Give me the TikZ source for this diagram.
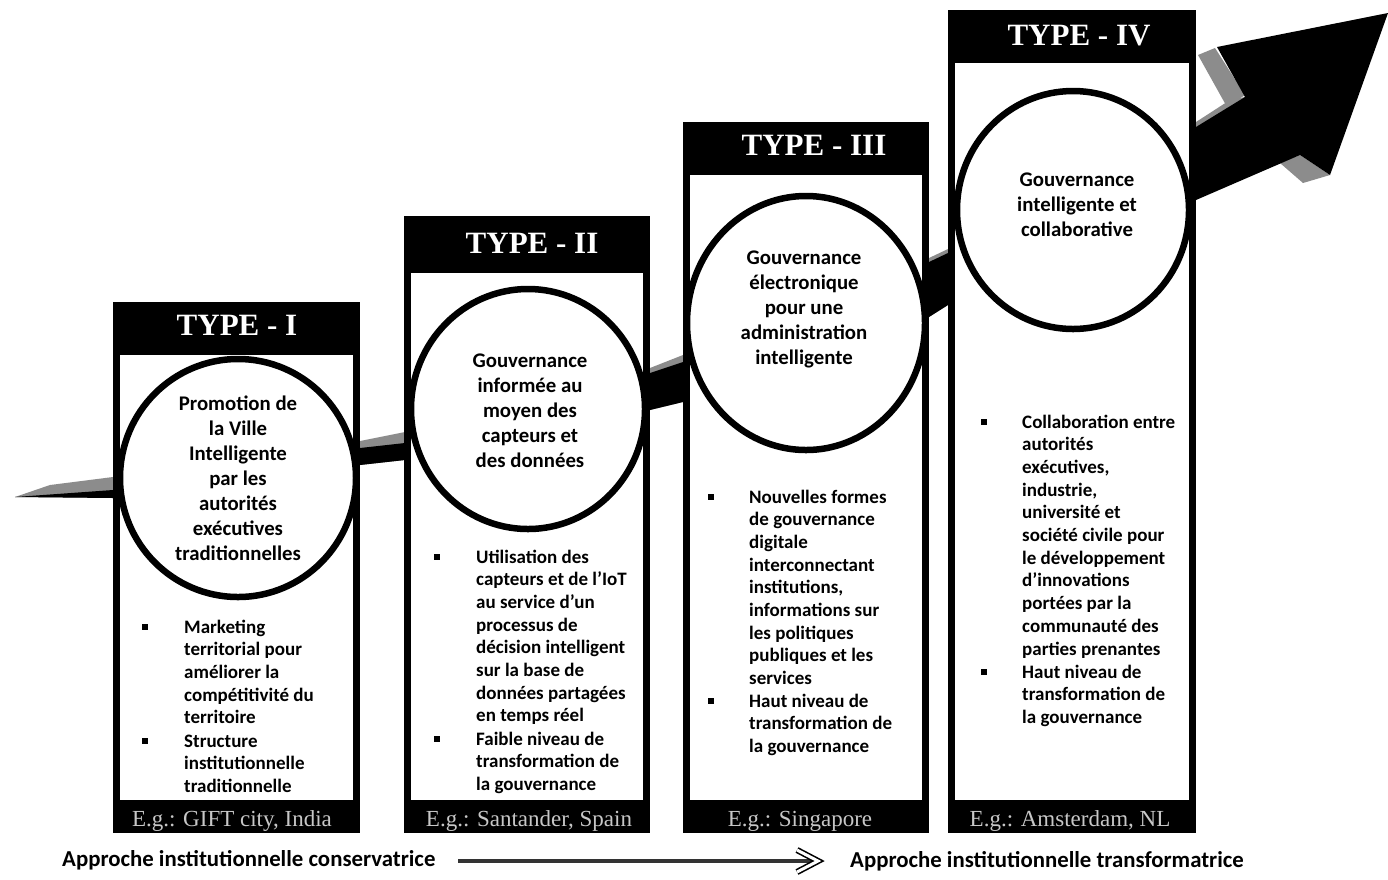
\documentclass[tikz,border=0pt]{standalone}
\usepackage{fontspec}
\setmainfont{Carlito}
\newfontfamily\tnr{Liberation Serif}
\begin{document}
\begin{tikzpicture}[x=1pt,y=-1pt,
  bandblack/.style={fill=black},
  bandgray/.style={fill=black!45},
  boxouter/.style={fill=black},
  boxinner/.style={fill=white},
  ring/.style={draw=black, line width=6.5pt, fill=white},
  hdr/.style={font=\tnr\bfseries\fontsize{31}{31}\selectfont, text=white, inner sep=0, anchor=base},
  ftr/.style={font=\tnr\fontsize{23}{23}\selectfont, text=black!22, inner sep=0, anchor=base},
  ctext/.style={font=\bfseries\fontsize{20.8}{25}\selectfont, align=center, inner sep=0, anchor=base},
  btext/.style={font=\bfseries\fontsize{19}{22.7}\selectfont, align=left, inner sep=0, anchor=base west},
  bsq/.style={fill=black},
  foot/.style={font=\bfseries\fontsize{22.8}{22.8}\selectfont, inner sep=0, anchor=base west},
]
\useasboundingbox (0,0) rectangle (1388,879);
\fill[white] (0,0) rectangle (1388,879);

% ---- rising band ----
\fill[bandgray] (15,497) -- (50,485) -- (113,477) -- (360,441) -- (405,432) -- (650,368) -- (683,355)
  -- (929,258) -- (948,249) -- (1196,122) -- (1230,100) -- (1245,97)
  -- (1196,200) -- (948,305) -- (929,317) -- (683,402) -- (650,410) -- (405,460) -- (360,465) -- (113,498) -- cycle;
\fill[bandgray] (1198,55) -- (1215,48) -- (1245,95) -- (1227,107) -- cycle;
\fill[bandgray] (1280,163) -- (1300,155) -- (1330,175) -- (1303,183) -- cycle;
\fill[bandblack] (15,497) -- (113,490) -- (360,448) -- (405,443) -- (650,373) -- (683,362)
  -- (929,262) -- (948,253) -- (1196,127) -- (1245,97) -- (1217,47) -- (1388,13)
  -- (1330,175) -- (1300,155) -- (1196,200) -- (948,305) -- (929,317) -- (683,402)
  -- (650,410) -- (405,460) -- (360,465) -- (113,498) -- cycle;

% ---- columns ----
\fill[boxouter] (113,302) rectangle (360,833);
\fill[boxinner] (120,355) rectangle (353,800);
\fill[boxouter] (404,216) rectangle (650,833);
\fill[boxinner] (411,273) rectangle (643,800);
\fill[boxouter] (683,122) rectangle (929,833);
\fill[boxinner] (690,175) rectangle (922,800);
\fill[boxouter] (948,10) rectangle (1196,833);
\fill[boxinner] (955,63) rectangle (1189,800);

% ---- circles ----
\draw[ring] (238,478) ellipse [x radius=118, y radius=119];
\draw[ring] (528,409) ellipse [x radius=117, y radius=120];
\draw[ring] (806,323) ellipse [x radius=119, y radius=127];
\draw[ring] (1073,210) ellipse [x radius=116, y radius=119];

% ---- headers ----
\node[hdr] (h1) at (237,335) {TYPE - I};
\node[hdr] (h2) at (532,253) {TYPE - II};
\node[hdr] (h3) at (814,155) {TYPE - III};
\node[hdr] (h4) at (1079,45) {TYPE - IV};

% ---- circle texts (anchor = baseline of last line) ----
\node[ctext] (c1) at (238,560) {Promotion de\\la Ville\\Intelligente\\par les\\autorités\\exécutives\\traditionnelles};
\node[ctext] (c2) at (530,467) {Gouvernance\\informée au\\moyen des\\capteurs et\\des données};
\node[ctext] (c3) at (804,364) {Gouvernance\\électronique\\pour une\\administration\\intelligente};
\node[ctext] (c4) at (1077,236) {Gouvernance\\intelligente et\\collaborative};

% ---- bullet lists (anchor = baseline of last line) ----
\fill[bsq] (142,624) rectangle (148,630);
\node[btext] (b11) at (184,723.8) {Marketing\\territorial pour\\améliorer la\\compétitivité du\\territoire};
\fill[bsq] (142,738) rectangle (148,744);
\node[btext] (b12) at (184,792.4) {Structure\\institutionnelle\\traditionnelle};

\fill[bsq] (434,554) rectangle (440,560);
\node[btext] (b21) at (476,721.9) {Utilisation des\\capteurs et de l’IoT\\au service d’un\\processus de\\décision intelligent\\sur la base de\\données partagées\\en temps réel};
\fill[bsq] (434,736) rectangle (440,742);
\node[btext] (b22) at (476,790.4) {Faible niveau de\\transformation de\\la gouvernance};

\fill[bsq] (708,494) rectangle (714,500);
\node[btext] (b31) at (749,684.6) {Nouvelles formes\\de gouvernance\\digitale\\interconnectant\\institutions,\\informations sur\\les politiques\\publiques et les\\services};
\fill[bsq] (708,698) rectangle (714,704);
\node[btext] (b32) at (749,752.4) {Haut niveau de\\transformation de\\la gouvernance};

\fill[bsq] (981,419) rectangle (987,425);
\node[btext] (b41) at (1022,655) {Collaboration entre\\autorités\\exécutives,\\industrie,\\université et\\société civile pour\\le développement\\d’innovations\\portées par la\\communauté des\\parties prenantes};
\fill[bsq] (981,669) rectangle (987,675);
\node[btext] (b42) at (1022,723.4) {Haut niveau de\\transformation de\\la gouvernance};

% ---- footers ----
\node[ftr] (f1) at (232,826) {E.g.: GIFT city, India};
\node[ftr] (f2) at (529,826) {E.g.: Santander, Spain};
\node[ftr] (f3) at (800,826) {E.g.: Singapore};
\node[ftr] (f4) at (1070,826) {E.g.: Amsterdam, NL};

% ---- bottom axis ----
\node[foot] (left) at (62,866) {Approche institutionnelle conservatrice};
\node[foot] (right) at (850,867) {Approche institutionnelle transformatrice};
\coordinate (arrS) at (458,861);
\coordinate (arrE) at (818,861);
\draw[line width=3.5pt, black!80] (arrS) -- (arrE);
\draw[line width=1.6pt, double=white, double distance=3pt, line join=miter] (797,850) -- (arrE) -- (797,872);
\end{tikzpicture}
\end{document}
